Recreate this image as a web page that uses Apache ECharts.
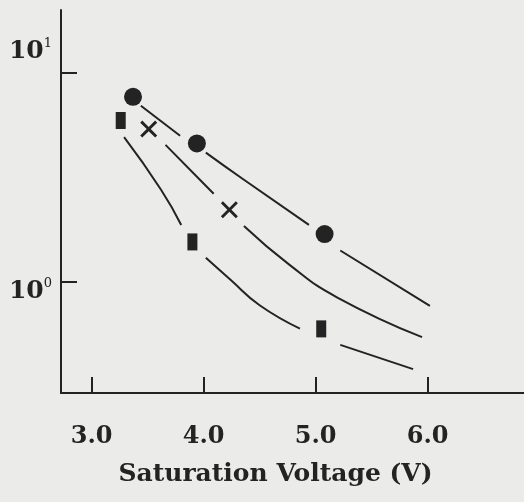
<!DOCTYPE html>
<html lang="en">
  <head>
    <meta charset="UTF-8" />
    <title>saturation voltage</title>
    <script src="https://cdn.jsdelivr.net/npm/echarts@6/dist/echarts.min.js"></script>
    <style>
      body {
        margin: 0;
        padding: 0;
        background: #ebebe9;
      }

      #main {
        width: 524px;
        height: 502px;
      }
    </style>
  </head>

  <body>
    <div id="main"></div>
    <script>
      // values: [voltage, y]
      const xTicks = [3, 4, 5, 6];
      const yTicks = [1, 10];

      const circles = [[3.37, 7.7], [3.94, 4.6], [5.08, 1.69]];
      const crosses = [[3.51, 5.39], [4.23, 2.21]];
      const squares = [[3.26, 5.93], [3.9, 1.55], [5.05, 0.593]];

      // fitted curves, broken where they pass a marker
      const circleCurve = [
        [3.44, 6.98], [3.79, 5.01], null,
        [4.02, 4.16], [4.36, 3.08], [4.94, 1.87], null,
        [5.22, 1.41], [6.02, 0.764],
      ];
      const crossCurve = [
        [3.66, 4.53], [4.09, 2.64], null,
        [4.36, 1.85], [4.77, 1.2], [5.19, 0.841], [5.95, 0.541],
      ];
      const squareCurve = [
        [3.29, 4.93], [3.62, 2.76], [3.8, 1.87], null,
        [4.02, 1.3], [4.24, 1.02], [4.5, 0.77], [4.86, 0.595], null,
        [5.22, 0.497], [5.87, 0.38],
      ];

      const ink = "#232323";
      const font = "DejaVu Serif";
      const crossPath =
        "path://M0,12 L12,0 L50,38 L88,0 L100,12 L62,50 L100,88 L88,100 L50,62 L12,100 L0,88 L38,50 Z";

      const curve = (data) => ({
        type: "line",
        data: data,
        smooth: 0.5,
        connectNulls: false,
        showSymbol: false,
        silent: true,
        lineStyle: { color: ink, width: 2 },
      });

      const marks = (data, symbol, size) => ({
        type: "scatter",
        data: data,
        symbol: symbol,
        symbolSize: size,
        itemStyle: { color: ink, opacity: 1 },
        z: 3,
      });

      const myChart = echarts.init(document.getElementById("main"));
      const option = {
        backgroundColor: "#ebebe9",
        animation: false,
        grid: { left: 61, right: 0, top: 10, bottom: 109 },
        xAxis: {
          type: "value",
          min: 2.727,
          max: 6.86,
          splitLine: { show: false },
          axisLine: { lineStyle: { color: ink, width: 2 } },
          axisTick: {
            inside: true,
            length: 16,
            customValues: xTicks,
            lineStyle: { color: ink, width: 2 },
          },
          axisLabel: {
            customValues: xTicks,
            margin: 32,
            color: ink,
            fontFamily: font,
            fontWeight: "bold",
            fontSize: 24,
            formatter: (v) => v.toFixed(1),
          },
          name: "Saturation Voltage (V)",
          nameLocation: "middle",
          nameGap: 69,
          nameTextStyle: {
            color: ink,
            fontFamily: font,
            fontWeight: "bold",
            fontSize: 25,
            padding: [0, 34, 0, 0],
          },
        },
        yAxis: {
          type: "log",
          logBase: 10,
          min: 0.292,
          max: 20.1,
          splitLine: { show: false },
          axisLine: { lineStyle: { color: ink, width: 2 } },
          axisTick: {
            inside: true,
            length: 16,
            customValues: yTicks,
            lineStyle: { color: ink, width: 2 },
          },
          axisLabel: {
            customValues: yTicks,
            margin: 9,
            color: ink,
            formatter: (v) =>
              v >= 10 ? "{b|10}{s|1}\n{g| }" : "{h| }\n{b|10}{s|0}",
            rich: {
              b: {
                fontFamily: font,
                fontWeight: "bold",
                fontSize: 25,
                lineHeight: 28,
                color: ink,
              },
              s: {
                fontFamily: font,
                fontSize: 13,
                lineHeight: 28,
                verticalAlign: "top",
                color: ink,
              },
              g: { fontSize: 10, lineHeight: 44 },
              h: { fontSize: 10, lineHeight: 20 },
            },
          },
        },
        series: [
          curve(circleCurve),
          curve(crossCurve),
          curve(squareCurve),
          marks(circles, "circle", 18),
          marks(crosses, crossPath, 17),
          marks(squares, "rect", [10, 17]),
        ],
      };

      myChart.setOption(option);
    </script>
  </body>
</html>
